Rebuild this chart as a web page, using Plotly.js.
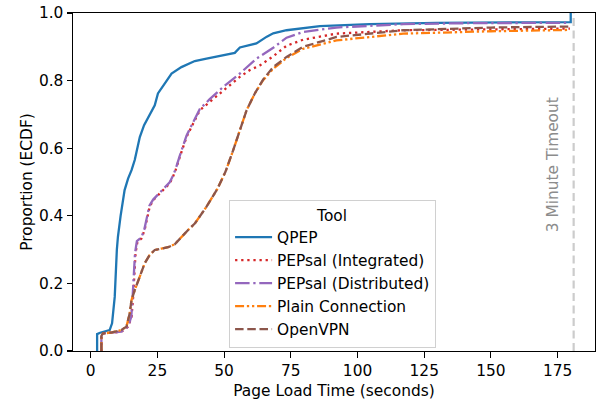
<!DOCTYPE html>
<html>
<head>
<meta charset="utf-8">
<script src="https://cdn.plot.ly/plotly-3.0.1.min.js"></script>
<style>html,body{margin:0;padding:0;background:#fff}#chart{width:597px;height:400px}</style>
</head>
<body>
<div id="chart"></div>
<script>
// ECDF points (x = seconds, y = proportion)
const qpepX = [2.4, 2.4, 3.5, 7.1, 8.0, 9.0, 9.8, 10.2, 11.2, 12.7, 14.0, 15.3, 16.5, 18.4, 20.0, 22.1, 24.0, 25.2, 27.7, 30.3, 34.0, 39.0, 43.4, 49.6, 54.0, 55.9, 62.1, 66.0, 68.4, 73.4, 79.0, 85.9, 104.6, 129.6, 179.9, 179.9];
const qpepY = [0, 0.05, 0.054, 0.062, 0.082, 0.16, 0.3, 0.338, 0.4, 0.476, 0.51, 0.535, 0.565, 0.633, 0.668, 0.698, 0.727, 0.762, 0.791, 0.821, 0.84, 0.858, 0.865, 0.875, 0.882, 0.898, 0.91, 0.93, 0.94, 0.949, 0.955, 0.961, 0.967, 0.971, 0.973, 1.0];

const pepIntX = [4.0, 4.0, 4.6, 8.0, 11.5, 14.0, 15.3, 15.9, 16.3, 16.8, 17.5, 19.0, 20.2, 20.9, 22.1, 23.4, 25.2, 27.1, 29.6, 30.9, 31.8, 33.4, 35.9, 38.4, 40.9, 44.6, 48.4, 52.1, 55.9, 59.6, 63.4, 68.4, 73.4, 79.6, 92.1, 117.1, 150.0, 179.6];
const pepIntY = [0, 0.045, 0.052, 0.055, 0.057, 0.072, 0.101, 0.16, 0.24, 0.289, 0.323, 0.333, 0.358, 0.387, 0.427, 0.446, 0.461, 0.476, 0.496, 0.517, 0.535, 0.574, 0.633, 0.673, 0.712, 0.737, 0.762, 0.786, 0.811, 0.831, 0.845, 0.872, 0.903, 0.921, 0.939, 0.949, 0.952, 0.954];

const pepDistX = [4.0, 4.0, 4.6, 8.0, 11.5, 14.0, 15.2, 15.7, 16.1, 16.6, 17.3, 19.0, 20.1, 20.8, 22.0, 23.4, 25.2, 27.1, 29.6, 30.9, 31.8, 33.4, 35.9, 38.4, 40.9, 44.6, 49.6, 55.9, 62.1, 68.4, 73.4, 79.6, 92.1, 117.1, 142.1, 179.6];
const pepDistY = [0, 0.045, 0.052, 0.055, 0.057, 0.072, 0.101, 0.16, 0.24, 0.289, 0.325, 0.336, 0.36, 0.39, 0.43, 0.448, 0.463, 0.479, 0.499, 0.52, 0.538, 0.578, 0.637, 0.677, 0.716, 0.745, 0.781, 0.821, 0.865, 0.897, 0.927, 0.944, 0.957, 0.967, 0.97, 0.971];

const plainX = [4.0, 4.0, 4.6, 8.0, 11.5, 13.4, 14.6, 15.3, 16.5, 18.4, 20.2, 22.1, 24.0, 26.5, 29.0, 31.5, 34.0, 36.5, 39.0, 43.4, 47.5, 50.5, 53.4, 55.9, 58.4, 61.5, 64.6, 68.4, 73.4, 79.6, 92.1, 117.1, 150.0, 179.6];
const plainY = [0, 0.045, 0.052, 0.055, 0.062, 0.072, 0.111, 0.151, 0.18, 0.22, 0.259, 0.284, 0.299, 0.303, 0.307, 0.316, 0.338, 0.358, 0.377, 0.427, 0.48, 0.53, 0.594, 0.653, 0.712, 0.762, 0.801, 0.835, 0.867, 0.894, 0.919, 0.939, 0.946, 0.95];

const vpnX = [4.0, 4.0, 4.6, 8.0, 11.5, 13.4, 14.6, 15.3, 16.5, 18.4, 20.2, 22.1, 24.0, 26.5, 29.0, 31.5, 34.0, 36.5, 39.0, 43.4, 47.5, 50.5, 53.4, 55.9, 58.4, 61.5, 64.6, 68.4, 73.4, 79.6, 92.1, 117.1, 150.0, 179.6];
const vpnY = [0, 0.045, 0.052, 0.055, 0.062, 0.072, 0.111, 0.151, 0.18, 0.22, 0.259, 0.284, 0.299, 0.303, 0.307, 0.316, 0.338, 0.358, 0.377, 0.427, 0.48, 0.53, 0.594, 0.653, 0.712, 0.762, 0.803, 0.84, 0.87, 0.9, 0.929, 0.949, 0.957, 0.96];

const seriesNames = ["QPEP", "PEPsal (Integrated)", "PEPsal (Distributed)", "Plain Connection", "OpenVPN"];
const timeoutX = 181;
const timeoutLabel = "3 Minute Timeout";
const xTicks = [0, 25, 50, 75, 100, 125, 150, 175];
const yTicks = [0, 0.2, 0.4, 0.6, 0.8, 1.0];
const yTickText = ["0.0", "0.2", "0.4", "0.6", "0.8", "1.0"];

const FONT = "DejaVu Sans";
const FS = 15.4;
const LW = 2.3;

const traces = [
  {x: qpepX, y: qpepY, name: seriesNames[0], mode: "lines", line: {color: "#1f77b4", width: LW}},
  {x: pepIntX, y: pepIntY, name: seriesNames[1], mode: "lines", line: {color: "#d62728", width: LW, dash: "2.3px,3.8px"}},
  {x: pepDistX, y: pepDistY, name: seriesNames[2], mode: "lines", line: {color: "#9467bd", width: LW, dash: "14.5px,3.7px,2.3px,3.7px"}},
  {x: plainX, y: plainY, name: seriesNames[3], mode: "lines", line: {color: "#ff7f0e", width: LW, dash: "9px,2.8px,2.3px,2.8px,2.3px,2.8px"}},
  {x: vpnX, y: vpnY, name: seriesNames[4], mode: "lines", line: {color: "#8c564b", width: LW, dash: "8.5px,3.7px"}}
];

const layout = {
  width: 597, height: 400,
  margin: {l: 73, r: 2, t: 13, b: 49},
  paper_bgcolor: "#fff", plot_bgcolor: "#fff",
  font: {family: FONT, size: FS, color: "#000"},
  showlegend: true,
  xaxis: {
    range: [-6.64, 189.0], tickvals: xTicks, ticktext: xTicks.map(String),
    showgrid: false, zeroline: false, showline: true, mirror: true, linecolor: "#000", linewidth: 1.1,
    ticks: "outside", ticklen: 5.4, tickwidth: 1.1, tickcolor: "#000",
    tickfont: {family: FONT, size: FS},
    title: {text: "Page Load Time (seconds)", font: {family: FONT, size: FS}, standoff: 6}
  },
  yaxis: {
    range: [0, 1], tickvals: yTicks, ticktext: yTickText,
    showgrid: false, zeroline: false, showline: true, mirror: true, linecolor: "#000", linewidth: 1.1,
    ticks: "outside", ticklen: 5.4, tickwidth: 1.1, tickcolor: "#000",
    tickfont: {family: FONT, size: FS},
    title: {text: "Proportion (ECDF)", font: {family: FONT, size: FS}, standoff: 2}
  },
  legend: {
    x: 0.299, y: 0.448, xanchor: "left", yanchor: "top",
    itemwidth: 37,
    bgcolor: "rgba(255,255,255,0.8)", bordercolor: "#d0d0d0", borderwidth: 1,
    font: {family: FONT, size: FS},
    title: {text: "Tool", side: "top center", font: {family: FONT, size: FS}}
  },
  shapes: [
    {type: "line", xref: "x", yref: "y", x0: timeoutX, x1: timeoutX, y0: 0, y1: 1,
     line: {color: "#cccccc", width: 2.2, dash: "8px,4.5px"}, layer: "below"}
  ],
  annotations: [
    {x: 173.3, y: 0.55, xref: "x", yref: "y", text: timeoutLabel, showarrow: false,
     textangle: -90, font: {family: FONT, size: FS, color: "#8c8c8c"}}
  ]
};

Plotly.newPlot("chart", traces, layout, {displayModeBar: false, staticPlot: true});
</script>
</body>
</html>
